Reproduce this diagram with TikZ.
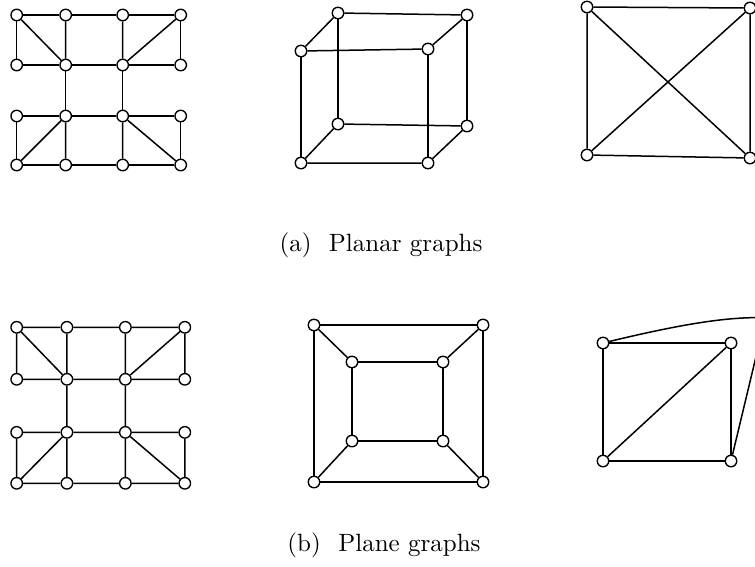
\documentclass[tikz,border=0pt]{standalone}
\usepackage{amsmath,amssymb}
\usepackage{tikz}
\usetikzlibrary{arrows.meta,positioning,calc}
\tikzset{
  vtx/.style={circle,draw,fill=white,line width=0.55pt,inner sep=0pt,minimum size=4.6pt},
  gline/.style={line width=0.6pt},
  heavy/.style={line width=0.85pt},
}
% the grid-like graph, used in both rows
\newcommand{\gridgraph}{%
  \foreach \ri/\y in {1/0,2/50,3/101,4/150}
    \foreach \ci/\x in {1/0,2/49,3/106,4/164}
      \node[vtx] (v\ri\ci) at (\x,\y) {};
  % upper block
  \draw[gline] (v11) -- (v12) -- (v13) -- (v14) -- (v24) -- (v23) -- (v22) -- (v21) -- (v11);
  \draw[gline] (v12) -- (v22) (v13) -- (v23) (v11) -- (v22) (v14) -- (v23);
  % middle
  \draw[gline] (v22) -- (v32) (v23) -- (v33);
  % lower block
  \draw[gline] (v31) -- (v32) -- (v33) -- (v34) -- (v44) -- (v43) -- (v42) -- (v41) -- (v31);
  \draw[gline] (v32) -- (v42) (v33) -- (v43) (v32) -- (v41) (v33) -- (v44);
}

\begin{document}
\begin{tikzpicture}[x=0.4pt,y=-0.4pt,line join=round]
  \useasboundingbox (0,0) rectangle (755,567);
  % --- (a) Planar graphs ---
  \begin{scope}[shift={(16.7,15)},name prefix=a-]
    \gridgraph
  \end{scope}
  % cube, drawn in perspective
  \node[vtx] (c1) at (338,13) {};
  \node[vtx] (c2) at (467,15) {};
  \node[vtx] (c3) at (301,51) {};
  \node[vtx] (c4) at (428,49) {};
  \node[vtx] (c5) at (338,124) {};
  \node[vtx] (c6) at (467,126) {};
  \node[vtx] (c7) at (301,163) {};
  \node[vtx] (c8) at (428,163) {};
  \draw[gline] (c1) -- (c2) (c3) -- (c4) (c5) -- (c6) (c7) -- (c8);
  \draw[gline] (c1) -- (c5) (c2) -- (c6) (c3) -- (c7) (c4) -- (c8);
  \draw[gline] (c1) -- (c3) (c2) -- (c4) (c5) -- (c7) (c6) -- (c8);
  % K4 with crossing diagonals
  \node[vtx] (k1) at (587,7) {};
  \node[vtx] (k2) at (750,8) {};
  \node[vtx] (k3) at (587,155) {};
  \node[vtx] (k4) at (750,158) {};
  \draw[gline] (k1) -- (k2) -- (k4) -- (k3) -- (k1);
  \draw[gline] (k1) -- (k4) (k2) -- (k3);
  \node (capa) at (381,245) {(a)\hspace{0.7em}Planar graphs};

  % --- (b) Plane graphs ---
  \begin{scope}[shift={(16.7,327.3)},xscale=1.025,yscale=1.04,name prefix=b-]
    \gridgraph
  \end{scope}
  % cube, drawn without crossings
  \node[vtx] (o1) at (314,325) {};
  \node[vtx] (o2) at (483,325) {};
  \node[vtx] (o3) at (314,482) {};
  \node[vtx] (o4) at (483,482) {};
  \node[vtx] (i1) at (352,362) {};
  \node[vtx] (i2) at (443,362) {};
  \node[vtx] (i3) at (352,441) {};
  \node[vtx] (i4) at (443,441) {};
  \draw[heavy] (o3) -- (o1) -- (o2) -- (o4);
  \draw[gline] (o3) -- (o4);
  \draw[gline] (i1) -- (i2) -- (i4) -- (i3) -- (i1);
  \draw[gline] (o1) -- (i1) (o2) -- (i2) (o3) -- (i3) (o4) -- (i4);
  % K4 with one edge routed outside
  \node[vtx] (p1) at (603,343) {};
  \node[vtx] (p2) at (731,343) {};
  \node[vtx] (p3) at (603,461) {};
  \node[vtx] (p4) at (731,461) {};
  \coordinate (r1) at (770,318);
  \coordinate (r2) at (760,340);
  \draw[gline] (p1) -- (p2) -- (p4) -- (p3) -- (p1);
  \draw[gline] (p2) -- (p3);
  \draw[gline] (p1) .. controls (690,322) and (735,316) .. (r1)
                    .. controls (782,318) and (764,325) .. (r2) -- (p4);
  \node (capb) at (384,545) {(b)\hspace{0.7em}Plane graphs};
\end{tikzpicture}
\end{document}
